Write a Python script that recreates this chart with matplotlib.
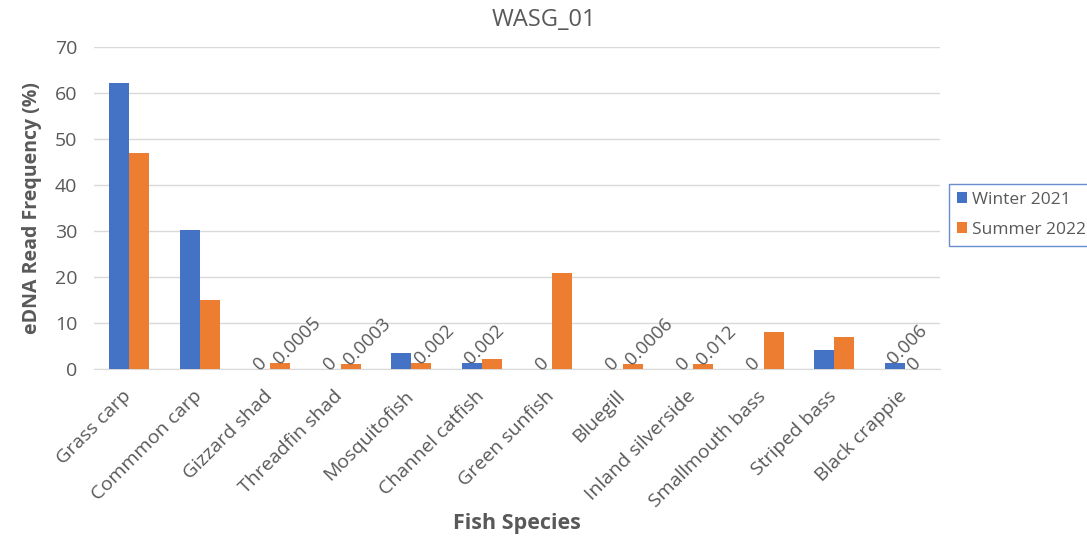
import matplotlib.pyplot as plt
import matplotlib.transforms as mtransforms
import numpy as np

# --- data -------------------------------------------------------------
species = ['Grass carp', 'Commmon carp', 'Gizzard shad', 'Threadfin shad',
           'Mosquitofish', 'Channel catfish', 'Green sunfish', 'Bluegill',
           'Inland silverside', 'Smallmouth bass', 'Striped bass', 'Black crappie']

winter_2021 = [62.1, 30.3, 0, 0, 3.4, 1.3, 0, 0, 0, 0, 4.2, 1.3]
summer_2022 = [47.0, 15.1, 1.2, 1.0, 1.2, 2.1, 20.8, 1.0, 1.0, 8.1, 6.9, 0]

# data labels shown above some of the bars (None = no label)
winter_labels = [None, None, '0', '0', None, '0.002', '0', '0', '0', '0', None, '0.006']
summer_labels = [None, None, '0.0005', '0.0003', '0.002', None, None, '0.0006', '0.012', None, None, '0']

# --- style ------------------------------------------------------------
BLUE = '#4472C4'
ORANGE = '#ED7D31'
GRAY = '#595959'
GRID = '#D9D9D9'
plt.rcParams['font.family'] = ['Open Sans', 'DejaVu Sans']

fig = plt.figure(figsize=(10.87, 5.38), dpi=100)
ax = fig.add_axes([94 / 1087, 1 - 369 / 538, 846 / 1087, (369 - 47) / 538])

x = np.arange(len(species))
w = 0.284

bars_w = ax.bar(x - w / 2, winter_2021, w, color=BLUE, label='Winter 2021', zorder=3)
bars_s = ax.bar(x + w / 2, summer_2022, w, color=ORANGE, label='Summer 2022', zorder=3)

# rotated value labels, nudged a little left/up from the bar top
shift = mtransforms.offset_copy(ax.transData, fig=fig, x=-4, y=2, units='dots')
for bars, labels in [(bars_w, winter_labels), (bars_s, summer_labels)]:
    for b, txt in zip(bars, labels):
        if txt is None:
            continue
        ax.text(b.get_x() + b.get_width() / 2, b.get_height(), txt,
                transform=shift, rotation=45, rotation_mode='anchor',
                ha='left', va='center', fontsize=13.5, color=GRAY, zorder=4)

ax.set_xlim(-0.5, len(species) - 0.5)
ax.set_ylim(0, 70)
ax.set_yticks(range(0, 71, 10))
ax.yaxis.grid(True, color=GRID, lw=1, zorder=0)
ax.tick_params(axis='both', length=0, labelsize=14, labelcolor=GRAY)
ax.tick_params(axis='y', pad=12)
ax.tick_params(axis='x', pad=13)
ax.set_xticks(x)
ax.set_xticklabels(species, rotation=45, ha='right', rotation_mode='anchor')
# pull the slanted category names a bit to the left
nudge = mtransforms.ScaledTranslation(-7 / 100, 0, fig.dpi_scale_trans)
for lbl in ax.get_xticklabels():
    lbl.set_transform(lbl.get_transform() + nudge)

for s in ['top', 'right', 'left']:
    ax.spines[s].set_visible(False)
ax.spines['bottom'].set_color(GRID)

# title is centred on the whole chart area
fig.text(0.5, 1 - 20 / 538, 'WASG_01', fontsize=17, color=GRAY, ha='center', va='center')
ax.set_ylabel('eDNA Read Frequency (%)', fontsize=14, fontweight='bold', color=GRAY, labelpad=9)
ax.set_xlabel('Fish Species', fontsize=15.5, fontweight='bold', color=GRAY, labelpad=2)

leg = fig.legend(handles=[bars_w, bars_s], loc='center left',
                 bbox_to_anchor=(949 / 1087, 1 - 215 / 538), fontsize=12.5,
                 frameon=True, fancybox=False, handlelength=0.6, handleheight=0.6,
                 handletextpad=0.25, labelcolor=GRAY, borderpad=0.45,
                 borderaxespad=0, labelspacing=0.8)
leg.get_frame().set_edgecolor(BLUE)
leg.get_frame().set_linewidth(1)

plt.savefig('out.png', dpi=100)
plt.close()
